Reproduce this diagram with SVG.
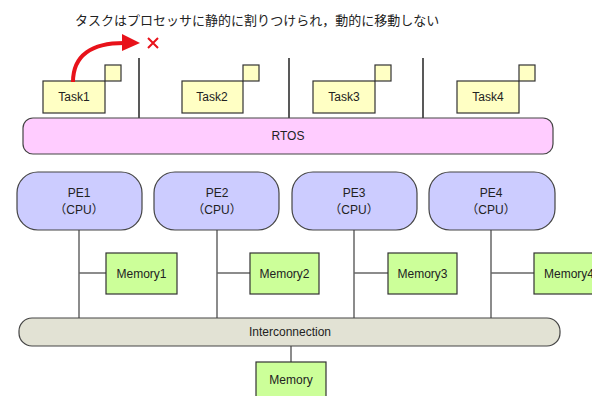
<svg xmlns="http://www.w3.org/2000/svg" width="592" height="396" viewBox="0 0 592 396">
<style>
text{font-family:"Liberation Sans","Noto Sans CJK JP",sans-serif;font-size:12px;fill:#222;text-anchor:middle}
.jp{font-family:"Noto Sans CJK JP",sans-serif;font-size:13px;text-anchor:start}
.task{fill:#ffffc4;stroke:#333;stroke-width:1.2}
.rtos{fill:#ffccff;stroke:#444;stroke-width:1.2}
.pe{fill:#ccccff;stroke:#444;stroke-width:1.2}
.mem{fill:#ccff99;stroke:#333;stroke-width:1.2}
.ic{fill:#e2e2d4;stroke:#444;stroke-width:1.2}
.div{stroke:#222;stroke-width:1.5}
.ln{stroke:#666;stroke-width:1.5;fill:none}
</style>
<rect width="592" height="396" fill="#fff"/>
<text class="jp" x="75" y="25">タスクはプロセッサに静的に割りつけられ，動的に移動しない</text>
<g id="dividers">
<line class="div" x1="139" y1="58" x2="139" y2="119"/>
<line class="div" x1="289" y1="58" x2="289" y2="119"/>
<line class="div" x1="423" y1="58" x2="423" y2="119"/>
</g>
<g id="task1"><rect class="task" x="43" y="81" width="62" height="32"/><rect class="task" x="105" y="65" width="16" height="16"/><text x="74" y="101">Task1</text></g>
<g id="task2"><rect class="task" x="182" y="81" width="61" height="32"/><rect class="task" x="243" y="65" width="16" height="16"/><text x="212" y="101">Task2</text></g>
<g id="task3"><rect class="task" x="313" y="81" width="62" height="32"/><rect class="task" x="375" y="65" width="16" height="16"/><text x="344" y="101">Task3</text></g>
<g id="task4"><rect class="task" x="457" y="81" width="62" height="32"/><rect class="task" x="519" y="65" width="16" height="16"/><text x="488" y="101">Task4</text></g>
<g id="migration">
<path d="M73,82 C73,55 92,43 124,43" fill="none" stroke="#e8121a" stroke-width="4"/>
<polygon points="122,34 140,43 122,51" fill="#e8121a"/>
<path d="M148,38 L158,48 M158,38 L148,48" stroke="#e8121a" stroke-width="2"/>
</g>
<g id="rtos"><rect class="rtos" x="23" y="118" width="530" height="36" rx="10"/><text x="288" y="140">RTOS</text></g>
<g id="connectors">
<line class="ln" x1="79" y1="230" x2="79" y2="318"/>
<line class="ln" x1="217" y1="230" x2="217" y2="318"/>
<line class="ln" x1="354" y1="230" x2="354" y2="318"/>
<line class="ln" x1="491" y1="230" x2="491" y2="318"/>
<line class="ln" x1="79" y1="273" x2="106" y2="273"/>
<line class="ln" x1="217" y1="273" x2="250" y2="273"/>
<line class="ln" x1="354" y1="273" x2="388" y2="273"/>
<line class="ln" x1="491" y1="273" x2="534" y2="273"/>
<line class="ln" x1="291" y1="346" x2="291" y2="362"/>
</g>
<g id="pe1"><rect class="pe" x="17" y="172" width="125" height="58" rx="21"/><text x="79" y="197">PE1</text><text x="79" y="214">（CPU）</text></g>
<g id="pe2"><rect class="pe" x="154" y="172" width="125" height="58" rx="21"/><text x="217" y="197">PE2</text><text x="217" y="214">（CPU）</text></g>
<g id="pe3"><rect class="pe" x="292" y="172" width="125" height="58" rx="21"/><text x="354" y="197">PE3</text><text x="354" y="214">（CPU）</text></g>
<g id="pe4"><rect class="pe" x="429" y="172" width="126" height="58" rx="21"/><text x="491" y="197">PE4</text><text x="491" y="214">（CPU）</text></g>
<g id="memory1"><rect class="mem" x="106" y="253" width="71" height="41"/><text x="141.5" y="278">Memory1</text></g>
<g id="memory2"><rect class="mem" x="250" y="253" width="69" height="41"/><text x="284.5" y="278">Memory2</text></g>
<g id="memory3"><rect class="mem" x="388" y="253" width="69" height="41"/><text x="422.5" y="278">Memory3</text></g>
<g id="memory4"><rect class="mem" x="534" y="253" width="70" height="41"/><text x="569" y="278">Memory4</text></g>
<g id="interconnection"><rect class="ic" x="19" y="318" width="541" height="28" rx="13"/><text x="290" y="336">Interconnection</text></g>
<g id="memory"><rect class="mem" x="256" y="362" width="70" height="40"/><text x="291" y="384">Memory</text></g>
</svg>
